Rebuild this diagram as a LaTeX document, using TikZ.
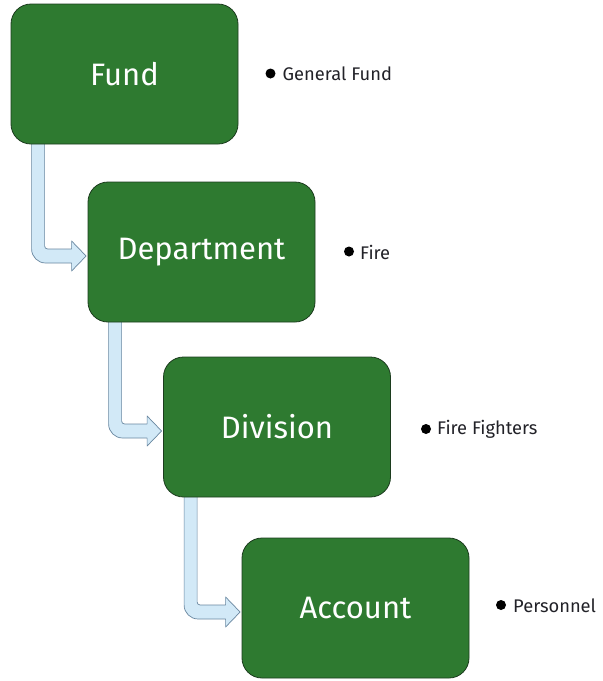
\documentclass[tikz,border=0pt]{standalone}
\usepackage{fontspec}
\setmainfont{Fira Sans}
\usetikzlibrary{calc}
\pgfdeclarelayer{behind}
\pgfsetlayers{behind,main}
\definecolor{boxgreen}{RGB}{46,122,48}
\definecolor{boxedge}{RGB}{28,60,30}
\definecolor{arrfill}{RGB}{210,233,247}
\definecolor{arredge}{RGB}{105,135,160}
\definecolor{notetext}{RGB}{34,34,40}
\tikzset{
  levelbox/.style={draw=boxedge, line width=0.8pt, fill=boxgreen, rounded corners=20pt,
    minimum width=227pt, minimum height=140pt, inner sep=0pt,
    text=white, font=\fontsize{31}{36}\selectfont},
  bulletdot/.style={circle, fill=black, minimum size=10pt, inner sep=0pt},
  notelabel/.style={anchor=west, inner sep=0pt, text=notetext, font=\fontsize{18.3}{22}\selectfont},
  bentarr/.style={fill=arrfill, draw=arredge, line width=0.7pt, line join=round}
}
% bent arrow from the lower left of one box into the left side of the next
\newcommand\bentarrow[2]{%
  \draw[bentarr] let \p1=(#1.south west), \p2=(#2.west) in
    (\x1+21pt,\y1+1pt) -- (\x1+21pt,\y2-11pt+14pt)
    arc[start angle=180, end angle=270, radius=14pt]
    -- (\x2-16pt,\y2-11pt) -- (\x2-16pt,\y2-19pt) -- (\x2-1.5pt,\y2-4pt)
    -- (\x2-16pt,\y2+11pt) -- (\x2-16pt,\y2+3pt)
    -- (\x1+34pt+3pt,\y2+3pt)
    arc[start angle=270, end angle=180, radius=3pt]
    -- (\x1+34pt,\y1+1pt) -- cycle;}
\begin{document}
\begin{tikzpicture}[x=1pt, y=-1pt]
  \useasboundingbox (0,0) rectangle (603,681);

  % hierarchy levels
  \node[levelbox] (fund) at (124.5,74) {Fund};
  \node[levelbox] (dept) at (201.5,252) {Department};
  \node[levelbox] (div)  at (277,427) {Division};
  \node[levelbox] (acct) at (355.5,608) {Account};

  % page background and connectors, kept behind the boxes
  \begin{pgfonlayer}{behind}
    \fill[white] (0,0) rectangle (603,681);
    \bentarrow{fund}{dept}
    \bentarrow{dept}{div}
    \bentarrow{div}{acct}
  \end{pgfonlayer}

  % examples for each level
  \node[bulletdot] (d1) at (270.5,73.5) {};
  \node[notelabel] (n1) at (282.5,74) {General Fund};
  \node[bulletdot] (d2) at (349,251.5) {};
  \node[notelabel] (n2) at (360,252) {Fire};
  \node[bulletdot] (d3) at (426,429) {};
  \node[notelabel] (n3) at (437,429.5) {Fire Fighters};
  \node[bulletdot] (d4) at (501,605) {};
  \node[notelabel] (n4) at (513,605.5) {Personnel};
\end{tikzpicture}
\end{document}
